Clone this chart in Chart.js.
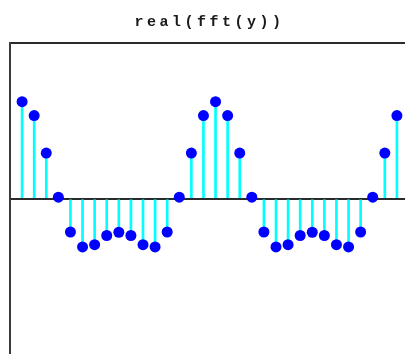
<!DOCTYPE html>
<html>
<head>
<meta charset="utf-8">
<title>real(fft(y))</title>
<script src="https://cdn.jsdelivr.net/npm/chart.js@4/dist/chart.umd.min.js"></script>
<style>
  html, body { margin: 0; padding: 0; background: #ffffff; overflow: hidden; }
  #wrap { width: 420px; height: 360px; }
</style>
</head>
<body>
<div id="wrap"><canvas id="c" width="420" height="360"></canvas></div>
<script>
// Sample positions (1-based, as in the stem plot) and the real part of the spectrum
const sampleIndex = [1,2,3,4,5,6,7,8,9,10,11,12,13,14,15,16,
                     17,18,19,20,21,22,23,24,25,26,27,28,29,30,31,32];
const realPart = [1.247, 1.068, 0.586, 0.02, -0.427, -0.619, -0.590, -0.472,
                  -0.430, -0.472, -0.590, -0.619, -0.427, 0.02, 0.586, 1.068,
                  1.247, 1.068, 0.586, 0.02, -0.427, -0.619, -0.590, -0.472,
                  -0.430, -0.472, -0.590, -0.619, -0.427, 0.02, 0.586, 1.068];
const xLimits = [0, 33];
const yLimits = [-2, 2];
const titleText = 'real(fft(y))';

const points = sampleIndex.map((x, i) => ({ x: x, y: realPart[i] }));

// Wider letter spacing for the monospaced title
const spacedTitle = {
  id: 'spacedTitle',
  beforeDraw(chart) { chart.ctx.letterSpacing = '3.5px'; },
  afterDraw(chart) { chart.ctx.letterSpacing = '0px'; }
};

new Chart(document.getElementById('c'), {
  type: 'bar',
  data: {
    datasets: [
      {
        type: 'line',
        label: 'markers',
        data: points,
        showLine: false,
        pointStyle: 'circle',
        pointRadius: 5.5,
        pointBorderWidth: 0,
        pointBackgroundColor: '#0000ff',
        borderColor: '#0000ff',
        order: 0
      },
      {
        type: 'bar',
        label: 'stems',
        data: points,
        backgroundColor: '#00ffff',
        borderWidth: 0,
        barThickness: 2,
        order: 1
      }
    ]
  },
  options: {
    responsive: false,
    animation: false,
    events: [],
    layout: { padding: { left: 10, right: 11, top: 0, bottom: 5 } },
    plugins: {
      legend: { display: false },
      tooltip: { enabled: false },
      title: {
        display: true,
        text: titleText,
        color: '#1a1a1a',
        font: { family: '"Liberation Mono", "DejaVu Sans Mono", monospace', size: 15, weight: 'bold', lineHeight: 1.2 },
        padding: { top: 13, bottom: 12 }
      }
    },
    scales: {
      x: {
        type: 'linear',
        display: false,
        min: xLimits[0],
        max: xLimits[1],
        offset: false
      },
      y: {
        type: 'linear',
        min: yLimits[0],
        max: yLimits[1],
        ticks: { display: false, stepSize: 2 },
        grid: {
          drawTicks: false,
          lineWidth: 2,
          color: (ctx) => (ctx.tick && (ctx.tick.value === 0 || ctx.tick.value === yLimits[1])) ? '#2b2b2b' : 'rgba(0,0,0,0)'
        },
        border: { display: true, color: '#3a3a3a', width: 2 }
      }
    }
  },
  plugins: [spacedTitle]
});
</script>
</body>
</html>
